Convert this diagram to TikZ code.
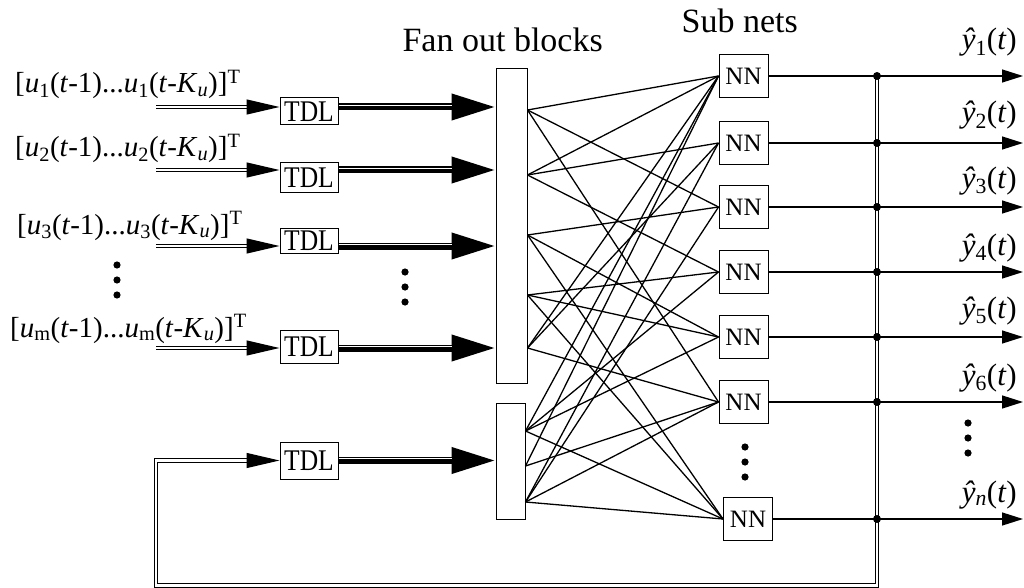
\documentclass[tikz,border=0pt]{standalone}
\usepackage{fontspec}
\setmainfont{Liberation Serif}
\newfontfamily\narrowfont[FakeStretch=0.85]{Liberation Serif}
\usetikzlibrary{arrows.meta}
\begin{document}
\begin{tikzpicture}[x=1pt,y=-1pt,
  font=\fontsize{29}{33}\selectfont,
  tdlbox/.style={draw,line width=1pt,inner sep=0pt,minimum width=58pt,font=\narrowfont\fontsize{30}{34}\selectfont},
  nnbox/.style={draw,line width=1pt,inner sep=0pt,minimum width=49pt,minimum height=43pt,font=\fontsize{25}{29}\selectfont},
  fanbox/.style={draw,line width=1pt,inner sep=0pt},
  dbl/.style={double=white,double distance=2.2pt,line width=1.2pt},
  inarrow/.style={dbl,-{Triangle[length=33pt,width=15pt]}},
  busarrow/.style={line width=7pt,-{Triangle[length=44pt,width=25pt]},
    postaction={draw=white,line width=1pt,arrows=-,shorten >=44pt,transform canvas={yshift=1.8pt}}},
  outarrow/.style={line width=1.3pt,-{Triangle[length=21pt,width=13pt]}},
  fan/.style={line width=1.3pt},
  jdot/.style={circle,fill,inner sep=0pt,minimum size=8pt},
  lbl/.style={anchor=base west,inner sep=0pt},
  ttl/.style={anchor=base east,inner sep=0pt,font=\fontsize{34}{38}\selectfont},
  ylbl/.style={anchor=base east,inner sep=0pt,font=\fontsize{31}{35}\selectfont},
]
\useasboundingbox (0,0) rectangle (1024,588);

% titles
\node[ttl] (tfan) at (603,52) {Fan out blocks};
\node[ttl] (tsub) at (798,33) {Sub nets};

% input labels
\node[lbl] (l1) at (15,93) {[\textit{u}\textsubscript{1}(\textit{t}-1)...\textit{u}\textsubscript{1}(\textit{t}-\textit{K}\textsubscript{\textit{u}})]\textsuperscript{T}};
\node[lbl] (l2) at (15,157) {[\textit{u}\textsubscript{2}(\textit{t}-1)...\textit{u}\textsubscript{2}(\textit{t}-\textit{K}\textsubscript{\textit{u}})]\textsuperscript{T}};
\node[lbl] (l3) at (17,234) {[\textit{u}\textsubscript{3}(\textit{t}-1)...\textit{u}\textsubscript{3}(\textit{t}-\textit{K}\textsubscript{\textit{u}})]\textsuperscript{T}};
\node[lbl] (l4) at (10,337) {[\textit{u}\textsubscript{m}(\textit{t}-1)...\textit{u}\textsubscript{m}(\textit{t}-\textit{K}\textsubscript{\textit{u}})]\textsuperscript{T}};

% TDL boxes
\node[tdlbox,minimum height=27pt] (tdl1) at (309,111.5) {TDL};
\node[tdlbox,minimum height=29pt] (tdl2) at (309,177.5) {TDL};
\node[tdlbox,minimum height=25pt] (tdl3) at (309,240.5) {TDL};
\node[tdlbox,minimum height=33pt] (tdl4) at (309,346.5) {TDL};
\node[tdlbox,minimum height=37pt] (tdl5) at (309,460.5) {TDL};

% fan out blocks
\node[fanbox,minimum width=31pt,minimum height=314pt] (fan1) at (511.5,226) {};
\node[fanbox,minimum width=29pt,minimum height=116pt] (fan2) at (510.5,461) {};

% NN boxes
\node[nnbox] (nn1) at (743.5,76) {NN};
\node[nnbox] (nn2) at (743.5,143) {NN};
\node[nnbox] (nn3) at (743.5,207) {NN};
\node[nnbox] (nn4) at (743.5,272) {NN};
\node[nnbox] (nn5) at (743.5,337) {NN};
\node[nnbox] (nn6) at (743.5,402) {NN};
\node[nnbox] (nnn) at (748,519) {NN};

% input arrows
\coordinate (in1) at (156,107);
\coordinate (in2) at (156,170);
\coordinate (in3) at (156,246);
\coordinate (in4) at (156,348);
\draw[inarrow] (in1) -- (in1 -| tdl1.west);
\draw[inarrow] (in2) -- (in2 -| tdl2.west);
\draw[inarrow] (in3) -- (in3 -| tdl3.west);
\draw[inarrow] (in4) -- (in4 -| tdl4.west);

% bus arrows to fan out blocks
\draw[busarrow] (in1 -| tdl1.east) -- (in1 -| fan1.west);
\draw[busarrow] (in2 -| tdl2.east) -- (in2 -| fan1.west);
\draw[busarrow] (in3 -| tdl3.east) -- (in3 -| fan1.west);
\draw[busarrow] (in4 -| tdl4.east) -- (in4 -| fan1.west);
\draw[busarrow] (tdl5.east) -- (tdl5 -| fan2.west);

% fan out points
\coordinate (p1) at (fan1.east |- 0,110);
\coordinate (p2) at (fan1.east |- 0,175);
\coordinate (p3) at (fan1.east |- 0,235);
\coordinate (p4) at (fan1.east |- 0,295);
\coordinate (p5) at (fan1.east |- 0,348);
\coordinate (q1) at (fan2.east |- 0,431);
\coordinate (q2) at (fan2.east |- 0,466);
\coordinate (q3) at (fan2.east |- 0,502);

\foreach \s/\t in {p1/nn1,p1/nn3,p1/nn6,
                   p2/nn1,p2/nn2,p2/nn4,
                   p3/nn3,p3/nn5,p3/nnn,
                   p4/nn4,p4/nn5,p4/nnn,
                   p5/nn1,p5/nn2,p5/nn6,
                   q1/nn1,q1/nn4,q1/nn5,q1/nnn,
                   q2/nn1,q2/nn6,
                   q3/nn2,q3/nn3,q3/nn6,q3/nnn}
  \draw[fan] (\s) -- (\t.west);

% output side
\coordinate (busx) at (877,0);
\coordinate (outx) at (1023,0);
\coordinate (bR) at (877,585.5);
\coordinate (bL) at (156,585.5);
\coordinate (j1) at (nn1.east -| busx);

% feedback bus
\draw[dbl,-{Triangle[length=33pt,width=15pt]}] (j1) -- (bR) -- (bL) -- (bL |- tdl5) -- (tdl5.west);

\foreach \n in {nn1,nn2,nn3,nn4,nn5,nn6,nnn}{
  \draw[outarrow] (\n.east) -- (\n.east -| outx);
  \node[jdot] (j\n) at (\n.east -| busx) {};
}

% output labels
\node[ylbl] (y1) at (1017,50) {\textit{ŷ}\textsubscript{1}(\textit{t})};
\node[ylbl] (y2) at (1017,123) {\textit{ŷ}\textsubscript{2}(\textit{t})};
\node[ylbl] (y3) at (1017,188) {\textit{ŷ}\textsubscript{3}(\textit{t})};
\node[ylbl] (y4) at (1017,255) {\textit{ŷ}\textsubscript{4}(\textit{t})};
\node[ylbl] (y5) at (1017,318) {\textit{ŷ}\textsubscript{5}(\textit{t})};
\node[ylbl] (y6) at (1017,385) {\textit{ŷ}\textsubscript{6}(\textit{t})};
\node[ylbl] (yn) at (1017,502) {\textit{ŷ}\textsubscript{\textit{n}}(\textit{t})};

% ellipsis dots
\foreach \x/\y in {117/265,405/272,745/447,968/423}
  \foreach \d in {0,15,30}
    \fill (\x,\y+\d) circle (3.6pt);
\end{tikzpicture}
\end{document}
